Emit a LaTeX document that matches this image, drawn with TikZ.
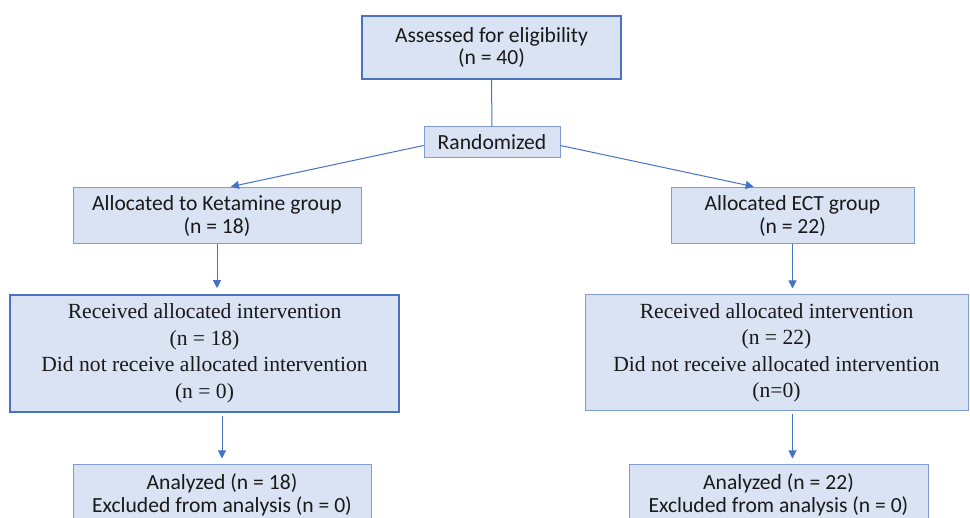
\documentclass[tikz,border=0pt]{standalone}
\usepackage{fontspec}
\setmainfont{Carlito}
\newfontfamily\serifbox{Liberation Serif}
\usetikzlibrary{arrows.meta,calc}

\definecolor{boxfill}{HTML}{DAE3F3}
\definecolor{boxline}{HTML}{7F9CD3}
\definecolor{darkline}{HTML}{4A72C0}
\definecolor{arrowblue}{HTML}{4472C4}

\begin{document}
\begin{tikzpicture}[
  x=1pt, y=-1pt,
  every node/.style = {shape=rectangle, draw=boxline, fill=boxfill, line width=1pt,
    align=center, inner sep=0pt, text=black!90,
    font=\fontsize{21.6}{22.5}\selectfont}
  ]
  \tikzset{DarkBox/.style = {draw=darkline, line width=1.6pt}}
  \tikzset{SerifBox/.style = {font=\serifbox\fontsize{21.6}{26.5}\selectfont}}
  \tikzset{ArrowDown/.style = {arrowblue, line width=1pt,
    -{Triangle[length=8pt,width=8pt]}}}

  \useasboundingbox (0,0) rectangle (970,518);
  \clip (0,0) rectangle (970,518);

  % enrolment
  \node[DarkBox, minimum width=259, minimum height=63] (assess) at (491.5,47.5)
    {Assessed for eligibility\\(n = 40)};
  \node[minimum width=136, minimum height=31] (rand) at (492,142.5) {Randomized};

  % allocation
  \node[minimum width=288, minimum height=56] (keta) at (217,216)
    {Allocated to Ketamine group\\(n = 18)};
  \node[minimum width=243, minimum height=56] (ect) at (792.5,216)
    {Allocated ECT group\\(n = 22)};

  \node[DarkBox, SerifBox, minimum width=389, minimum height=117] (recvL) at (204.5,353.5)
    {Received allocated intervention\\(n = 18)\\Did not receive allocated intervention\\(n = 0)};
  \node[SerifBox, minimum width=383, minimum height=116] (recvR) at (776.5,353)
    {Received allocated intervention\\(n = 22)\\Did not receive allocated intervention\\(n=0)};

  % analysis
  \node[minimum width=298, minimum height=60] (anaL) at (222,495)
    {Analyzed (n = 18)\\Excluded from analysis (n = 0)};
  \node[minimum width=299, minimum height=60] (anaR) at (778.5,495)
    {Analyzed (n = 22)\\Excluded from analysis (n = 0)};

  \draw[arrowblue, line width=1pt] (assess.south) -- (rand.north);
  \draw[ArrowDown, shorten >=4pt] ($(rand.west)+(0,3)$) -- ($(keta.north)+(10,0)$);
  \draw[ArrowDown, shorten >=4pt] ($(rand.east)+(0,3)$) -- ($(ect.north)+(-35,0)$);

  \draw[ArrowDown, shorten >=6pt] (keta.south) -- (keta.south |- recvL.north);
  \draw[ArrowDown, shorten >=6pt] (ect.south) -- (ect.south |- recvR.north);

  \draw[ArrowDown, shorten <=3pt, shorten >=6pt] (recvL.south -| anaL.north) -- (anaL.north);
  \draw[ArrowDown, shorten <=3pt, shorten >=6pt] (ect.south |- recvR.south) -- (ect.south |- anaR.north);

\end{tikzpicture}
\end{document}
